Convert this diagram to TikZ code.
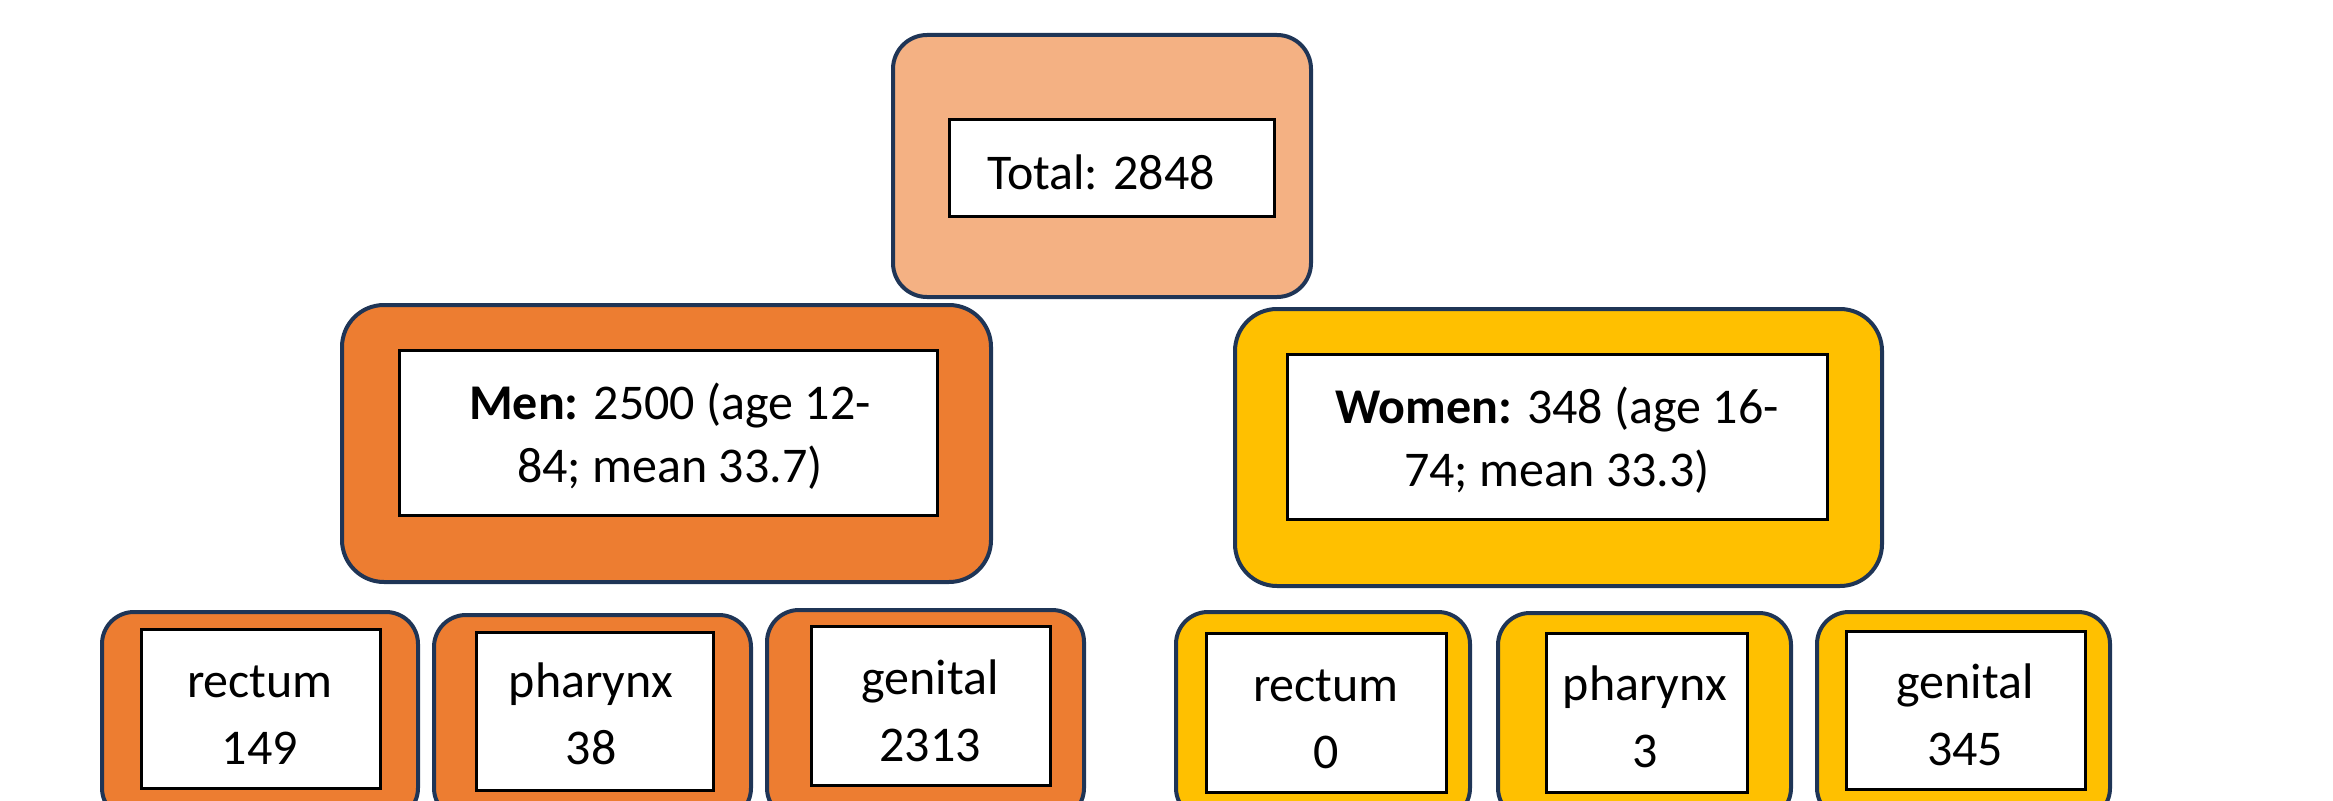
\documentclass[tikz,border=0pt]{standalone}
\usepackage{fontspec}
\setmainfont{Carlito}
\definecolor{navy}{HTML}{1F3556}
\definecolor{peach}{HTML}{F4B183}
\definecolor{menor}{HTML}{ED7D31}
\definecolor{wommy}{HTML}{FFC000}
\begin{document}
\begin{tikzpicture}[x=1pt,y=-1pt,
  outerbox/.style={draw=navy, line width=4pt, rounded corners=#1, inner sep=0pt},
  innerbox/.style={draw=black, fill=white, line width=3pt, inner sep=0pt},
  bigtxt/.style={font=\fontsize{50}{63}\selectfont, align=center, inner sep=0pt},
  smalltxt/.style={font=\fontsize{50}{67}\selectfont, align=center, inner sep=0pt}]
\useasboundingbox (0,0) rectangle (2333,800);
\clip (0,0) rectangle (2333,800);
% top
\node[outerbox=34pt, fill=peach, minimum width=418pt, minimum height=262pt] (tot) at (1102,166) {};
\node[innerbox, minimum width=325pt, minimum height=97pt] (totin) at (1111.5,167.5) {};
\node[bigtxt, anchor=base] (tottxt) at (1101,189) {Total: 2848};
% men / women
\node[outerbox=42pt, fill=menor, minimum width=649pt, minimum height=277pt] (men) at (666.5,443.5) {};
\node[innerbox, minimum width=538pt, minimum height=165pt] (menin) at (668,432.5) {};
\node[bigtxt] (mentxt) at (670,436) {\textbf{Men:} 2500 (age 12-\\84; mean 33.7)};
\node[outerbox=42pt, fill=wommy, minimum width=647pt, minimum height=277pt] (wom) at (1558.5,447.5) {};
\node[innerbox, minimum width=540pt, minimum height=165pt] (womin) at (1557,436.5) {};
\node[bigtxt] (womtxt) at (1557,440) {\textbf{Women:} 348 (age 16-\\74; mean 33.3)};
% men sites
\node[outerbox=32pt, fill=menor, minimum width=316pt, minimum height=208pt] (m1) at (260,716) {};
\node[innerbox, minimum width=239pt, minimum height=159pt] (m1in) at (260.5,708.5) {};
\node[smalltxt] (m1txt) at (260,715) {rectum\\149};
\node[outerbox=32pt, fill=menor, minimum width=317pt, minimum height=205pt] (m2) at (592.5,717.5) {};
\node[innerbox, minimum width=237pt, minimum height=158pt] (m2in) at (594.5,711) {};
\node[smalltxt] (m2txt) at (591,714) {pharynx\\38};
\node[outerbox=32pt, fill=menor, minimum width=317pt, minimum height=210pt] (m3) at (925.5,715) {};
\node[innerbox, minimum width=239pt, minimum height=159pt] (m3in) at (930.5,705.5) {};
\node[smalltxt] (m3txt) at (930,711) {genital\\2313};
% women sites
\node[outerbox=32pt, fill=wommy, minimum width=294pt, minimum height=208pt] (w1) at (1323,716) {};
\node[innerbox, minimum width=240pt, minimum height=159pt] (w1in) at (1326,712.5) {};
\node[smalltxt] (w1txt) at (1326,719) {rectum\\0};
\node[outerbox=32pt, fill=wommy, minimum width=293pt, minimum height=207pt] (w2) at (1644.5,716.5) {};
\node[innerbox, minimum width=201pt, minimum height=159pt] (w2in) at (1646.5,712.5) {};
\node[smalltxt] (w2txt) at (1645,717) {pharynx\\3};
\node[outerbox=32pt, fill=wommy, minimum width=293pt, minimum height=208pt] (w3) at (1963.5,716) {};
\node[innerbox, minimum width=239pt, minimum height=158pt] (w3in) at (1965.5,710) {};
\node[smalltxt] (w3txt) at (1965,715) {genital\\345};
\end{tikzpicture}
\end{document}
